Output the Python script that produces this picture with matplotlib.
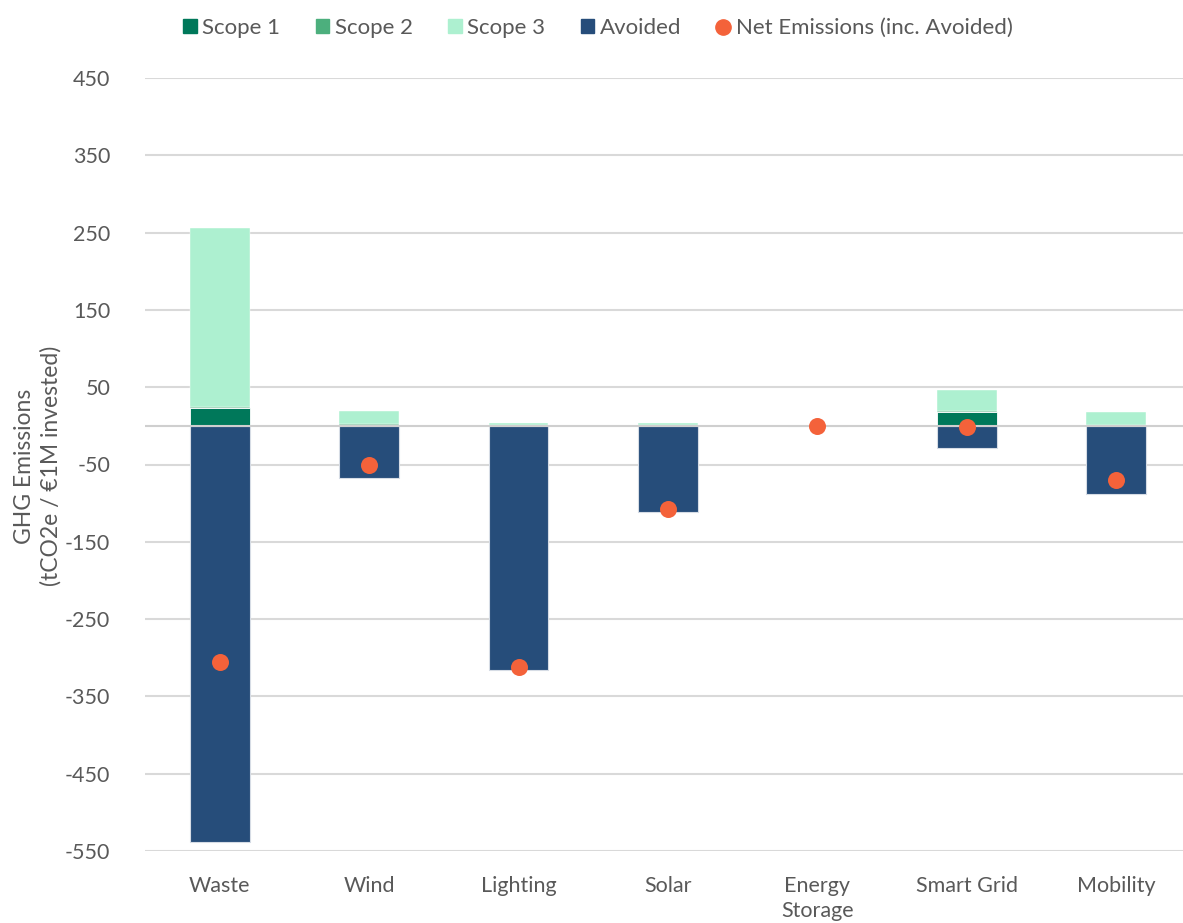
import numpy as np
import matplotlib
matplotlib.use('Agg')
from matplotlib import pyplot as plt
from matplotlib.lines import Line2D
from matplotlib.patches import Patch

plt.rcParams['font.family'] = ['Lato', 'DejaVu Sans']
plt.rcParams['axes.unicode_minus'] = False

categories = ['Waste', 'Wind', 'Lighting', 'Solar', 'Energy\nStorage', 'Smart Grid', 'Mobility']
scope1 = [23, 0.5, 0, 0, 0, 18, 0]
scope2 = [2, 1.5, 0.5, 0.5, 0, 1.5, 0.5]
scope3 = [231, 17.5, 3, 3, 0, 27, 17.5]
avoided = [-539, -68, -316, -111, 0, -29, -88]
net = [-306, -50, -312, -107, 0, -1, -70]

c1 = '#00785A'
c2 = '#4CAF7D'
c3 = '#ADF0D0'
c_av = '#264D7A'
c_net = '#F4623A'
txt = '#595959'

x = np.arange(len(categories))
w = 0.4

fig = plt.figure(figsize=(11.83, 9.23), dpi=100)
ax = fig.add_axes([145 / 1183, 1 - 851 / 923, (1191 - 145) / 1183, (851 - 78) / 923])

s1 = np.array(scope1)
s2 = np.array(scope2)
s3 = np.array(scope3)
ax.bar(x, s1, w, color=c1, edgecolor='white', linewidth=0.6, zorder=3)
ax.bar(x, s2, w, bottom=s1, color=c2, edgecolor='white', linewidth=0.3, zorder=3)
ax.bar(x, s3, w, bottom=s1 + s2, color=c3, edgecolor='white', linewidth=0.3, zorder=3)
ax.bar(x, avoided, w, color=c_av, edgecolor='#D6DCE5', linewidth=0.8, zorder=3)
ax.scatter(x, net, s=150, color=c_net, zorder=5, linewidths=0)

ax.axhline(0, color='#CFCFCF', lw=1.5, zorder=4)

ax.set_ylim(-550, 450)
ax.set_xlim(-0.5, len(categories) - 0.5)
ax.set_yticks(np.arange(-550, 451, 100))
ax.yaxis.grid(True, color='#D9D9D9', lw=1.5, zorder=0)
ax.set_axisbelow(True)
ax.set_xticks(x)
ax.set_xticklabels(categories, linespacing=1.3)
ax.tick_params(axis='both', length=0, labelsize=15.5, colors=txt)
ax.tick_params(axis='x', pad=18)
ax.tick_params(axis='y', pad=25)
for sp in ax.spines.values():
    sp.set_visible(False)

fig.text(38 / 1183, 1 - 466 / 923, 'GHG Emissions\n(tCO2e / €1M invested)', rotation=90,
         ha='center', va='center', fontsize=16.5, color=txt, linespacing=1.3)

handles = [Patch(color=c1, label='Scope 1'),
           Patch(color=c2, label='Scope 2'),
           Patch(color=c3, label='Scope 3'),
           Patch(color=c_av, label='Avoided'),
           Line2D([], [], marker='o', ls='none', color=c_net, markersize=11, label='Net Emissions (inc. Avoided)')]
leg = fig.legend(handles=handles, loc='center', bbox_to_anchor=(598 / 1183, 1 - 28 / 923), ncol=5,
                 frameon=False, fontsize=16, handlelength=0.6, handleheight=0.6,
                 handletextpad=0.25, columnspacing=1.6)
for t in leg.get_texts():
    t.set_color(txt)

fig.savefig('out.png', dpi=100)
